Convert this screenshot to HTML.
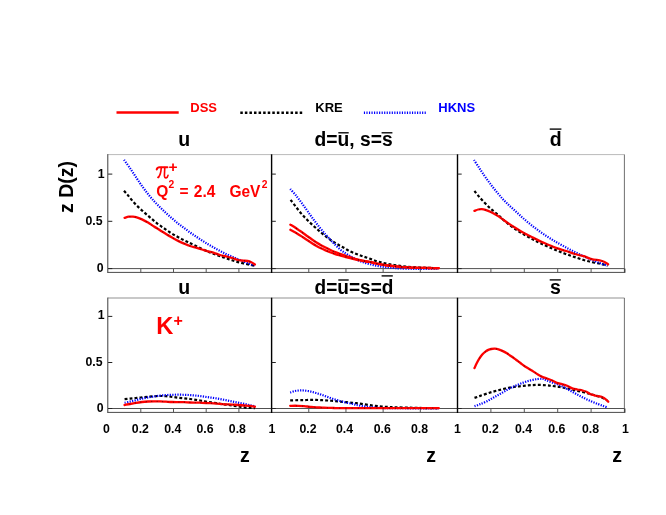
<!DOCTYPE html>
<html><head><meta charset="utf-8"><title>chart</title>
<style>html,body{margin:0;padding:0;background:#fff;overflow:hidden}svg{display:block;will-change:transform}text{font-family:"Liberation Sans",sans-serif}</style></head>
<body>
<svg width="666" height="515" viewBox="0 0 666 515">
<rect width="666" height="515" fill="#fff"/>
<g fill="none" stroke-width="1">
<path d="M108.10 154.60 H624.50" stroke="#bababa"/>
<path d="M624.40 154.60 V272.40" stroke="#606060" stroke-width="0.9"/>
<path d="M624.90 268.60 V272.80" stroke="#222"/>
<path d="M107.80 154.10 V272.90" stroke="#3c3c3c"/>
<path d="M107.60 272.40 H625.00" stroke="#4a4a4a"/>
<path d="M108.10 268.60 H624.50" stroke="#505050"/>
</g>
<g stroke="#000" stroke-width="1.4">
<path d="M271.60 154.30 V273.00"/>
<path d="M457.50 154.30 V273.00"/>
</g>
<g stroke="#222" stroke-width="1">
<path d="M108.10 174.10 H112.30"/>
<path d="M108.10 221.30 H112.30"/>
<path d="M108.10 268.60 H112.30"/>
<path d="M271.60 174.10 H275.80"/>
<path d="M271.60 221.30 H275.80"/>
<path d="M271.60 268.60 H275.80"/>
<path d="M457.50 174.10 H461.70"/>
<path d="M457.50 221.30 H461.70"/>
<path d="M457.50 268.60 H461.70"/>
<path d="M140.80 268.60 V272.40" stroke="#555"/>
<path d="M173.50 268.60 V272.40" stroke="#555"/>
<path d="M206.20 268.60 V272.40" stroke="#555"/>
<path d="M238.90 268.60 V272.40" stroke="#555"/>
<path d="M308.78 268.60 V272.40" stroke="#555"/>
<path d="M345.96 268.60 V272.40" stroke="#555"/>
<path d="M383.14 268.60 V272.40" stroke="#555"/>
<path d="M420.32 268.60 V272.40" stroke="#555"/>
<path d="M490.90 268.60 V272.40" stroke="#555"/>
<path d="M524.30 268.60 V272.40" stroke="#555"/>
<path d="M557.70 268.60 V272.40" stroke="#555"/>
<path d="M591.10 268.60 V272.40" stroke="#555"/>
</g>
<g fill="none" stroke-width="1">
<path d="M108.10 298.00 H624.50" stroke="#919191"/>
<path d="M624.40 298.00 V412.40" stroke="#606060" stroke-width="0.9"/>
<path d="M624.90 408.50 V412.80" stroke="#222"/>
<path d="M107.80 297.50 V412.90" stroke="#3c3c3c"/>
<path d="M107.60 412.40 H625.00" stroke="#4a4a4a"/>
<path d="M108.10 408.50 H624.50" stroke="#505050"/>
</g>
<g stroke="#000" stroke-width="1.4">
<path d="M271.60 297.70 V413.00"/>
<path d="M457.50 297.70 V413.00"/>
</g>
<g stroke="#222" stroke-width="1">
<path d="M108.10 316.40 H112.30"/>
<path d="M108.10 362.50 H112.30"/>
<path d="M108.10 408.50 H112.30"/>
<path d="M271.60 316.40 H275.80"/>
<path d="M271.60 362.50 H275.80"/>
<path d="M271.60 408.50 H275.80"/>
<path d="M457.50 316.40 H461.70"/>
<path d="M457.50 362.50 H461.70"/>
<path d="M457.50 408.50 H461.70"/>
<path d="M140.80 408.50 V412.40" stroke="#555"/>
<path d="M173.50 408.50 V412.40" stroke="#555"/>
<path d="M206.20 408.50 V412.40" stroke="#555"/>
<path d="M238.90 408.50 V412.40" stroke="#555"/>
<path d="M308.78 408.50 V412.40" stroke="#555"/>
<path d="M345.96 408.50 V412.40" stroke="#555"/>
<path d="M383.14 408.50 V412.40" stroke="#555"/>
<path d="M420.32 408.50 V412.40" stroke="#555"/>
<path d="M490.90 408.50 V412.40" stroke="#555"/>
<path d="M524.30 408.50 V412.40" stroke="#555"/>
<path d="M557.70 408.50 V412.40" stroke="#555"/>
<path d="M591.10 408.50 V412.40" stroke="#555"/>
</g>
<g fill="none">
<path d="M124.00 190.80 C124.70 191.60 126.60 193.70 128.20 195.60 C129.80 197.50 131.70 200.10 133.60 202.20 C135.50 204.30 137.60 206.30 139.60 208.20 C141.60 210.10 143.60 211.83 145.60 213.60 C147.60 215.37 149.60 217.10 151.60 218.80 C153.60 220.50 155.60 222.27 157.60 223.80 C159.60 225.33 161.58 226.60 163.60 228.00 C165.62 229.40 167.68 230.90 169.70 232.20 C171.72 233.50 173.70 234.65 175.70 235.80 C177.70 236.95 179.70 238.05 181.70 239.10 C183.70 240.15 185.70 241.13 187.70 242.10 C189.70 243.07 191.32 243.75 193.70 244.90 C196.08 246.05 199.62 247.88 202.00 249.00 C204.38 250.12 206.00 250.77 208.00 251.60 C210.00 252.43 212.00 253.23 214.00 254.00 C216.00 254.77 218.00 255.50 220.00 256.20 C222.00 256.90 224.00 257.52 226.00 258.20 C228.00 258.88 230.00 259.65 232.00 260.30 C234.00 260.95 235.98 261.55 238.00 262.10 C240.02 262.65 242.08 263.15 244.10 263.60 C246.12 264.05 248.35 264.42 250.10 264.80 C251.85 265.18 253.85 265.72 254.60 265.90" stroke="#000" stroke-width="2.2" stroke-dasharray="2.9 2.1"/>
<path d="M290.60 199.80 C291.43 200.90 293.77 204.05 295.60 206.40 C297.43 208.75 299.60 211.58 301.60 213.90 C303.60 216.22 305.47 218.17 307.60 220.30 C309.73 222.43 312.27 224.75 314.40 226.70 C316.53 228.65 318.40 230.30 320.40 232.00 C322.40 233.70 324.40 235.38 326.40 236.90 C328.40 238.42 330.40 239.78 332.40 241.10 C334.40 242.42 336.40 243.63 338.40 244.80 C340.40 245.97 342.38 246.97 344.40 248.10 C346.42 249.23 348.48 250.62 350.50 251.60 C352.52 252.58 354.50 253.23 356.50 254.00 C358.50 254.77 360.50 255.50 362.50 256.20 C364.50 256.90 366.25 257.40 368.50 258.20 C370.75 259.00 373.75 260.27 376.00 261.00 C378.25 261.73 380.00 262.12 382.00 262.60 C384.00 263.08 386.00 263.50 388.00 263.90 C390.00 264.30 392.00 264.67 394.00 265.00 C396.00 265.33 398.00 265.63 400.00 265.90 C402.00 266.17 404.00 266.40 406.00 266.60 C408.00 266.80 410.00 266.97 412.00 267.10 C414.00 267.23 416.00 267.30 418.00 267.40 C420.00 267.50 422.00 267.62 424.00 267.70 C426.00 267.78 427.55 267.82 430.00 267.90 C432.45 267.98 437.25 268.15 438.70 268.20" stroke="#000" stroke-width="2.2" stroke-dasharray="2.9 2.1"/>
<path d="M474.40 191.00 C475.23 192.00 477.57 194.90 479.40 197.00 C481.23 199.10 483.40 201.55 485.40 203.60 C487.40 205.65 489.30 207.43 491.40 209.30 C493.50 211.17 495.90 212.95 498.00 214.80 C500.10 216.65 502.00 218.63 504.00 220.40 C506.00 222.17 508.00 223.87 510.00 225.40 C512.00 226.93 514.00 228.27 516.00 229.60 C518.00 230.93 520.00 232.20 522.00 233.40 C524.00 234.60 525.98 235.70 528.00 236.80 C530.02 237.90 532.08 238.95 534.10 240.00 C536.12 241.05 537.67 241.93 540.10 243.10 C542.53 244.27 545.80 245.72 548.70 247.00 C551.60 248.28 554.58 249.62 557.50 250.80 C560.42 251.98 563.30 253.05 566.20 254.10 C569.10 255.15 571.98 256.12 574.90 257.10 C577.82 258.08 580.78 259.13 583.70 260.00 C586.62 260.87 589.50 261.63 592.40 262.30 C595.30 262.97 598.58 263.45 601.10 264.00 C603.62 264.55 606.43 265.33 607.50 265.60" stroke="#000" stroke-width="2.2" stroke-dasharray="2.9 2.1"/>
<path d="M124.60 399.20 C125.50 399.10 128.10 398.80 130.00 398.60 C131.90 398.40 134.00 398.20 136.00 398.00 C138.00 397.80 140.00 397.60 142.00 397.40 C144.00 397.20 146.00 396.98 148.00 396.80 C150.00 396.62 152.00 396.43 154.00 396.30 C156.00 396.17 158.00 396.02 160.00 396.00 C162.00 395.98 163.98 396.07 166.00 396.20 C168.02 396.33 170.08 396.55 172.10 396.80 C174.12 397.05 176.10 397.43 178.10 397.70 C180.10 397.97 182.10 398.18 184.10 398.40 C186.10 398.62 188.12 398.77 190.10 399.00 C192.08 399.23 194.02 399.50 196.00 399.80 C197.98 400.10 200.00 400.45 202.00 400.80 C204.00 401.15 206.00 401.57 208.00 401.90 C210.00 402.23 212.00 402.48 214.00 402.80 C216.00 403.12 218.00 403.50 220.00 403.80 C222.00 404.10 224.00 404.32 226.00 404.60 C228.00 404.88 230.00 405.20 232.00 405.50 C234.00 405.80 235.98 406.10 238.00 406.40 C240.02 406.70 242.08 407.05 244.10 407.30 C246.12 407.55 248.30 407.75 250.10 407.90 C251.90 408.05 254.10 408.15 254.90 408.20" stroke="#000" stroke-width="2.2" stroke-dasharray="2.9 2.1"/>
<path d="M290.20 400.40 C291.50 400.37 295.70 400.25 298.00 400.20 C300.30 400.15 302.00 400.15 304.00 400.10 C306.00 400.05 308.00 399.93 310.00 399.90 C312.00 399.87 314.00 399.85 316.00 399.90 C318.00 399.95 320.00 400.10 322.00 400.20 C324.00 400.30 325.98 400.37 328.00 400.50 C330.02 400.63 332.08 400.82 334.10 401.00 C336.12 401.18 338.10 401.40 340.10 401.60 C342.10 401.80 344.10 402.00 346.10 402.20 C348.10 402.40 350.38 402.63 352.10 402.80 C353.82 402.97 354.78 403.02 356.40 403.20 C358.02 403.38 359.78 403.60 361.80 403.90 C363.82 404.20 366.25 404.67 368.50 405.00 C370.75 405.33 373.05 405.63 375.30 405.90 C377.55 406.17 379.75 406.42 382.00 406.60 C384.25 406.78 386.55 406.88 388.80 407.00 C391.05 407.12 392.13 407.18 395.50 407.30 C398.87 407.42 404.48 407.58 409.00 407.70 C413.52 407.82 417.63 407.92 422.60 408.00 C427.57 408.08 436.10 408.17 438.80 408.20" stroke="#000" stroke-width="2.2" stroke-dasharray="2.9 2.1"/>
<path d="M474.50 397.90 C475.35 397.60 477.53 396.82 479.60 396.10 C481.67 395.38 484.48 394.38 486.90 393.60 C489.32 392.82 491.68 392.08 494.10 391.40 C496.52 390.72 498.97 390.10 501.40 389.50 C503.83 388.90 506.27 388.28 508.70 387.80 C511.13 387.32 513.57 386.93 516.00 386.60 C518.43 386.27 520.87 386.03 523.30 385.80 C525.73 385.57 528.17 385.35 530.60 385.20 C533.03 385.05 535.25 384.88 537.90 384.90 C540.55 384.92 544.00 385.12 546.50 385.30 C549.00 385.48 550.75 385.73 552.90 386.00 C555.05 386.27 557.25 386.53 559.40 386.90 C561.55 387.27 563.65 387.75 565.80 388.20 C567.95 388.65 570.15 389.10 572.30 389.60 C574.45 390.10 576.55 390.68 578.70 391.20 C580.85 391.72 583.03 392.17 585.20 392.70 C587.37 393.23 589.55 393.80 591.70 394.40 C593.85 395.00 596.17 395.65 598.10 396.30 C600.03 396.95 601.80 397.65 603.30 398.30 C604.80 398.95 606.47 399.88 607.10 400.20" stroke="#000" stroke-width="2.2" stroke-dasharray="2.9 2.1"/>
<path d="M124.00 159.80 C125.00 161.20 128.00 165.30 130.00 168.20 C132.00 171.10 134.00 174.23 136.00 177.20 C138.00 180.17 140.00 183.20 142.00 186.00 C144.00 188.80 146.00 191.48 148.00 194.00 C150.00 196.52 152.00 198.90 154.00 201.10 C156.00 203.30 158.00 205.22 160.00 207.20 C162.00 209.18 163.98 211.13 166.00 213.00 C168.02 214.87 170.08 216.65 172.10 218.40 C174.12 220.15 176.10 221.90 178.10 223.50 C180.10 225.10 182.10 226.50 184.10 228.00 C186.10 229.50 188.12 231.08 190.10 232.50 C192.08 233.92 194.02 235.17 196.00 236.50 C197.98 237.83 200.00 239.22 202.00 240.50 C204.00 241.78 206.00 243.00 208.00 244.20 C210.00 245.40 212.00 246.57 214.00 247.70 C216.00 248.83 218.00 249.95 220.00 251.00 C222.00 252.05 224.00 253.05 226.00 254.00 C228.00 254.95 230.00 255.83 232.00 256.70 C234.00 257.57 235.98 258.38 238.00 259.20 C240.02 260.02 242.08 260.80 244.10 261.60 C246.12 262.40 248.35 263.33 250.10 264.00 C251.85 264.67 253.85 265.33 254.60 265.60" stroke="#0000ff" stroke-width="2.2" stroke-dasharray="1.25 1.3"/>
<path d="M290.20 189.00 C291.10 190.00 293.70 192.70 295.60 195.00 C297.50 197.30 299.60 200.10 301.60 202.80 C303.60 205.50 305.60 208.40 307.60 211.20 C309.60 214.00 311.60 216.90 313.60 219.60 C315.60 222.30 317.60 224.90 319.60 227.40 C321.60 229.90 323.78 232.53 325.60 234.60 C327.42 236.67 329.17 238.37 330.50 239.80 C331.83 241.23 332.08 241.68 333.60 243.20 C335.12 244.72 337.60 247.20 339.60 248.90 C341.60 250.60 343.58 252.05 345.60 253.40 C347.62 254.75 349.68 255.90 351.70 257.00 C353.72 258.10 355.70 259.10 357.70 260.00 C359.70 260.90 361.65 261.70 363.70 262.40 C365.75 263.10 367.95 263.67 370.00 264.20 C372.05 264.73 374.00 265.18 376.00 265.60 C378.00 266.02 380.00 266.40 382.00 266.70 C384.00 267.00 386.00 267.18 388.00 267.40 C390.00 267.62 392.00 267.83 394.00 268.00 C396.00 268.17 397.00 268.27 400.00 268.40 C403.00 268.53 408.00 268.72 412.00 268.80 C416.00 268.88 419.55 268.93 424.00 268.90 C428.45 268.87 436.25 268.65 438.70 268.60" stroke="#0000ff" stroke-width="2.2" stroke-dasharray="1.25 1.3"/>
<path d="M474.00 160.00 C474.90 161.37 477.50 165.33 479.40 168.20 C481.30 171.07 483.40 174.35 485.40 177.20 C487.40 180.05 489.40 182.70 491.40 185.30 C493.40 187.90 495.40 190.40 497.40 192.80 C499.40 195.20 501.40 197.55 503.40 199.70 C505.40 201.85 507.30 203.72 509.40 205.70 C511.50 207.68 513.90 209.68 516.00 211.60 C518.10 213.52 520.00 215.40 522.00 217.20 C524.00 219.00 525.98 220.73 528.00 222.40 C530.02 224.07 532.08 225.63 534.10 227.20 C536.12 228.77 538.10 230.37 540.10 231.80 C542.10 233.23 544.10 234.50 546.10 235.80 C548.10 237.10 550.20 238.43 552.10 239.60 C554.00 240.77 555.15 241.47 557.50 242.80 C559.85 244.13 563.30 246.05 566.20 247.60 C569.10 249.15 571.98 250.67 574.90 252.10 C577.82 253.53 580.78 254.85 583.70 256.20 C586.62 257.55 589.50 258.97 592.40 260.20 C595.30 261.43 598.58 262.70 601.10 263.60 C603.62 264.50 606.43 265.27 607.50 265.60" stroke="#0000ff" stroke-width="2.2" stroke-dasharray="1.25 1.3"/>
<path d="M124.60 402.80 C125.50 402.60 128.10 402.03 130.00 401.60 C131.90 401.17 134.00 400.70 136.00 400.20 C138.00 399.70 140.00 399.07 142.00 398.60 C144.00 398.13 146.00 397.75 148.00 397.40 C150.00 397.05 152.00 396.80 154.00 396.50 C156.00 396.20 158.00 395.83 160.00 395.60 C162.00 395.37 163.98 395.23 166.00 395.10 C168.02 394.97 170.08 394.87 172.10 394.80 C174.12 394.73 176.10 394.70 178.10 394.70 C180.10 394.70 182.10 394.73 184.10 394.80 C186.10 394.87 188.12 394.97 190.10 395.10 C192.08 395.23 194.02 395.40 196.00 395.60 C197.98 395.80 200.00 396.03 202.00 396.30 C204.00 396.57 206.00 396.92 208.00 397.20 C210.00 397.48 212.00 397.70 214.00 398.00 C216.00 398.30 218.00 398.63 220.00 399.00 C222.00 399.37 224.00 399.80 226.00 400.20 C228.00 400.60 230.00 401.00 232.00 401.40 C234.00 401.80 235.98 402.20 238.00 402.60 C240.02 403.00 242.08 403.37 244.10 403.80 C246.12 404.23 248.30 404.77 250.10 405.20 C251.90 405.63 254.10 406.20 254.90 406.40" stroke="#0000ff" stroke-width="2.2" stroke-dasharray="1.25 1.3"/>
<path d="M290.20 392.60 C290.90 392.35 292.90 391.45 294.40 391.10 C295.90 390.75 297.60 390.60 299.20 390.50 C300.80 390.40 302.20 390.35 304.00 390.50 C305.80 390.65 308.00 390.98 310.00 391.40 C312.00 391.82 314.00 392.42 316.00 393.00 C318.00 393.58 320.00 394.22 322.00 394.90 C324.00 395.58 325.98 396.38 328.00 397.10 C330.02 397.82 332.08 398.55 334.10 399.20 C336.12 399.85 338.10 400.43 340.10 401.00 C342.10 401.57 344.10 402.13 346.10 402.60 C348.10 403.07 350.38 403.42 352.10 403.80 C353.82 404.18 354.78 404.53 356.40 404.90 C358.02 405.27 359.78 405.65 361.80 406.00 C363.82 406.35 366.25 406.73 368.50 407.00 C370.75 407.27 373.05 407.43 375.30 407.60 C377.55 407.77 378.63 407.90 382.00 408.00 C385.37 408.10 386.03 408.12 395.50 408.20 C404.97 408.28 431.58 408.45 438.80 408.50" stroke="#0000ff" stroke-width="2.2" stroke-dasharray="1.25 1.3"/>
<path d="M474.50 406.10 C475.35 405.82 477.53 405.20 479.60 404.40 C481.67 403.60 484.48 402.48 486.90 401.30 C489.32 400.12 491.68 398.65 494.10 397.30 C496.52 395.95 498.97 394.58 501.40 393.20 C503.83 391.82 506.27 390.28 508.70 389.00 C511.13 387.72 513.57 386.57 516.00 385.50 C518.43 384.43 520.87 383.45 523.30 382.60 C525.73 381.75 528.17 381.00 530.60 380.40 C533.03 379.80 535.83 379.25 537.90 379.00 C539.97 378.75 541.57 378.67 543.00 378.90 C544.43 379.13 544.85 379.75 546.50 380.40 C548.15 381.05 550.75 382.03 552.90 382.80 C555.05 383.57 557.25 384.10 559.40 385.00 C561.55 385.90 563.65 387.07 565.80 388.20 C567.95 389.33 570.15 390.62 572.30 391.80 C574.45 392.98 576.55 394.17 578.70 395.30 C580.85 396.43 583.03 397.57 585.20 398.60 C587.37 399.63 589.55 400.58 591.70 401.50 C593.85 402.42 596.17 403.35 598.10 404.10 C600.03 404.85 601.80 405.47 603.30 406.00 C604.80 406.53 606.47 407.08 607.10 407.30" stroke="#0000ff" stroke-width="2.2" stroke-dasharray="1.25 1.3"/>
<path d="M124.60 217.80 C125.30 217.62 127.50 216.90 128.80 216.70 C130.10 216.50 131.20 216.53 132.40 216.60 C133.60 216.67 134.40 216.63 136.00 217.10 C137.60 217.57 140.00 218.48 142.00 219.40 C144.00 220.32 146.00 221.42 148.00 222.60 C150.00 223.78 152.00 225.23 154.00 226.50 C156.00 227.77 158.00 228.95 160.00 230.20 C162.00 231.45 163.98 232.77 166.00 234.00 C168.02 235.23 170.08 236.45 172.10 237.60 C174.12 238.75 176.10 239.90 178.10 240.90 C180.10 241.90 182.10 242.75 184.10 243.60 C186.10 244.45 188.12 245.32 190.10 246.00 C192.08 246.68 194.02 247.12 196.00 247.70 C197.98 248.28 200.00 248.90 202.00 249.50 C204.00 250.10 206.00 250.75 208.00 251.30 C210.00 251.85 212.00 252.18 214.00 252.80 C216.00 253.42 218.00 254.40 220.00 255.00 C222.00 255.60 224.00 255.92 226.00 256.40 C228.00 256.88 230.00 257.30 232.00 257.90 C234.00 258.50 236.18 259.55 238.00 260.00 C239.82 260.45 241.28 260.43 242.90 260.60 C244.52 260.77 246.30 260.73 247.70 261.00 C249.10 261.27 250.10 261.62 251.30 262.20 C252.50 262.78 254.30 264.12 254.90 264.50" stroke="#ff0000" stroke-width="2.3" stroke-linecap="round"/>
<path d="M290.40 224.70 C291.00 225.05 292.65 225.93 294.00 226.80 C295.35 227.67 297.00 228.87 298.50 229.90 C300.00 230.93 301.50 231.93 303.00 233.00 C304.50 234.07 306.00 235.22 307.50 236.30 C309.00 237.38 310.50 238.47 312.00 239.50 C313.50 240.53 315.00 241.55 316.50 242.50 C318.00 243.45 319.50 244.35 321.00 245.20 C322.50 246.05 324.00 246.83 325.50 247.60 C327.00 248.37 328.50 249.10 330.00 249.80 C331.50 250.50 332.98 251.18 334.50 251.80 C336.02 252.42 337.43 252.90 339.10 253.50 C340.77 254.10 343.02 254.87 344.50 255.40 C345.98 255.93 346.40 256.18 348.00 256.70 C349.60 257.22 352.08 257.95 354.10 258.50 C356.12 259.05 358.10 259.55 360.10 260.00 C362.10 260.45 364.10 260.82 366.10 261.20 C368.10 261.58 370.45 261.93 372.10 262.30 C373.75 262.67 374.35 263.02 376.00 263.40 C377.65 263.78 380.00 264.25 382.00 264.60 C384.00 264.95 386.00 265.23 388.00 265.50 C390.00 265.77 392.00 265.98 394.00 266.20 C396.00 266.42 398.00 266.63 400.00 266.80 C402.00 266.97 404.00 267.07 406.00 267.20 C408.00 267.33 410.00 267.50 412.00 267.60 C414.00 267.70 416.00 267.75 418.00 267.80 C420.00 267.85 422.00 267.87 424.00 267.90 C426.00 267.93 427.55 267.95 430.00 268.00 C432.45 268.05 437.25 268.17 438.70 268.20" stroke="#ff0000" stroke-width="2.3" stroke-linecap="round"/>
<path d="M290.40 229.80 C291.00 230.13 292.65 231.03 294.00 231.80 C295.35 232.57 297.00 233.48 298.50 234.40 C300.00 235.32 301.50 236.33 303.00 237.30 C304.50 238.27 306.00 239.22 307.50 240.20 C309.00 241.18 310.50 242.25 312.00 243.20 C313.50 244.15 315.00 245.05 316.50 245.90 C318.00 246.75 319.50 247.55 321.00 248.30 C322.50 249.05 324.00 249.75 325.50 250.40 C327.00 251.05 328.50 251.63 330.00 252.20 C331.50 252.77 332.98 253.30 334.50 253.80 C336.02 254.30 337.43 254.72 339.10 255.20 C340.77 255.68 343.02 256.28 344.50 256.70 C345.98 257.12 346.40 257.30 348.00 257.70 C349.60 258.10 352.08 258.65 354.10 259.10 C356.12 259.55 358.10 260.00 360.10 260.40 C362.10 260.80 364.10 261.15 366.10 261.50 C368.10 261.85 370.45 262.17 372.10 262.50 C373.75 262.83 374.35 263.13 376.00 263.50 C377.65 263.87 380.00 264.37 382.00 264.70 C384.00 265.03 386.00 265.25 388.00 265.50 C390.00 265.75 392.00 265.98 394.00 266.20 C396.00 266.42 397.00 266.57 400.00 266.80 C403.00 267.03 408.00 267.42 412.00 267.60 C416.00 267.78 419.55 267.80 424.00 267.90 C428.45 268.00 436.25 268.15 438.70 268.20" stroke="#ff0000" stroke-width="2.3" stroke-linecap="round"/>
<path d="M474.40 210.90 C475.03 210.67 476.97 209.78 478.20 209.50 C479.43 209.22 480.60 209.13 481.80 209.20 C483.00 209.27 483.90 209.43 485.40 209.90 C486.90 210.37 488.90 211.10 490.80 212.00 C492.70 212.90 494.80 214.07 496.80 215.30 C498.80 216.53 500.80 218.02 502.80 219.40 C504.80 220.78 506.80 222.25 508.80 223.60 C510.80 224.95 512.80 226.23 514.80 227.50 C516.80 228.77 518.80 230.03 520.80 231.20 C522.80 232.37 524.78 233.43 526.80 234.50 C528.82 235.57 530.88 236.58 532.90 237.60 C534.92 238.62 536.90 239.65 538.90 240.60 C540.90 241.55 542.90 242.43 544.90 243.30 C546.90 244.17 548.80 244.95 550.90 245.80 C553.00 246.65 554.95 247.53 557.50 248.40 C560.05 249.27 563.30 250.07 566.20 251.00 C569.10 251.93 571.98 253.13 574.90 254.00 C577.82 254.87 580.90 255.33 583.70 256.20 C586.50 257.07 589.03 258.50 591.70 259.20 C594.37 259.90 597.65 259.97 599.70 260.40 C601.75 260.83 602.60 261.15 604.00 261.80 C605.40 262.45 607.42 263.88 608.10 264.30" stroke="#ff0000" stroke-width="2.3" stroke-linecap="round"/>
<path d="M124.60 405.00 C125.50 404.83 128.10 404.37 130.00 404.00 C131.90 403.63 134.00 403.13 136.00 402.80 C138.00 402.47 140.00 402.22 142.00 402.00 C144.00 401.78 146.00 401.62 148.00 401.50 C150.00 401.38 152.00 401.32 154.00 401.30 C156.00 401.28 158.00 401.33 160.00 401.40 C162.00 401.47 163.98 401.60 166.00 401.70 C168.02 401.80 170.08 401.93 172.10 402.00 C174.12 402.07 176.10 402.07 178.10 402.10 C180.10 402.13 182.10 402.13 184.10 402.20 C186.10 402.27 188.12 402.43 190.10 402.50 C192.08 402.57 194.02 402.55 196.00 402.60 C197.98 402.65 200.00 402.72 202.00 402.80 C204.00 402.88 206.00 403.00 208.00 403.10 C210.00 403.20 212.00 403.28 214.00 403.40 C216.00 403.52 218.00 403.65 220.00 403.80 C222.00 403.95 224.00 404.17 226.00 404.30 C228.00 404.43 230.00 404.48 232.00 404.60 C234.00 404.72 235.98 404.85 238.00 405.00 C240.02 405.15 242.08 405.35 244.10 405.50 C246.12 405.65 248.30 405.70 250.10 405.90 C251.90 406.10 254.10 406.57 254.90 406.70" stroke="#ff0000" stroke-width="2.3" stroke-linecap="round"/>
<path d="M290.20 405.80 C291.50 405.80 295.70 405.73 298.00 405.80 C300.30 405.87 302.00 406.03 304.00 406.20 C306.00 406.37 308.00 406.62 310.00 406.80 C312.00 406.98 314.00 407.17 316.00 407.30 C318.00 407.43 320.00 407.50 322.00 407.60 C324.00 407.70 325.98 407.83 328.00 407.90 C330.02 407.97 331.08 407.95 334.10 408.00 C337.12 408.05 328.65 408.17 346.10 408.20 C363.55 408.23 423.35 408.20 438.80 408.20" stroke="#ff0000" stroke-width="2.3" stroke-linecap="round"/>
<path d="M474.50 368.10 C474.87 367.30 475.85 364.95 476.70 363.30 C477.55 361.65 478.63 359.70 479.60 358.20 C480.57 356.70 481.53 355.38 482.50 354.30 C483.47 353.22 484.43 352.43 485.40 351.70 C486.37 350.97 487.33 350.35 488.30 349.90 C489.27 349.45 490.10 349.20 491.20 349.00 C492.30 348.80 493.68 348.65 494.90 348.70 C496.12 348.75 497.17 348.90 498.50 349.30 C499.83 349.70 501.43 350.38 502.90 351.10 C504.37 351.82 505.85 352.70 507.30 353.60 C508.75 354.50 510.15 355.48 511.60 356.50 C513.05 357.52 514.53 358.62 516.00 359.70 C517.47 360.78 518.95 361.92 520.40 363.00 C521.85 364.08 523.25 365.22 524.70 366.20 C526.15 367.18 527.63 368.00 529.10 368.90 C530.57 369.80 532.03 370.67 533.50 371.60 C534.97 372.53 536.45 373.62 537.90 374.50 C539.35 375.38 540.98 376.35 542.20 376.90 C543.42 377.45 543.63 377.25 545.20 377.80 C546.77 378.35 549.67 379.37 551.60 380.20 C553.53 381.03 555.07 382.15 556.80 382.80 C558.53 383.45 560.28 383.62 562.00 384.10 C563.72 384.58 565.38 385.00 567.10 385.70 C568.82 386.40 570.58 387.67 572.30 388.30 C574.02 388.93 575.68 389.13 577.40 389.50 C579.12 389.87 581.08 390.12 582.60 390.50 C584.12 390.88 585.20 391.20 586.50 391.80 C587.80 392.40 589.12 393.52 590.40 394.10 C591.68 394.68 592.92 394.97 594.20 395.30 C595.48 395.63 596.80 395.82 598.10 396.10 C599.40 396.38 600.82 396.53 602.00 397.00 C603.18 397.47 604.17 398.12 605.20 398.90 C606.23 399.68 607.70 401.23 608.20 401.70" stroke="#ff0000" stroke-width="2.3" stroke-linecap="round"/>
</g>
<g fill="#2a0000" fill-opacity="0.6">
<circle cx="129.90" cy="216.67" r="0.62"/>
<circle cx="135.35" cy="217.01" r="0.62"/>
<circle cx="140.80" cy="218.94" r="0.62"/>
<circle cx="146.25" cy="221.67" r="0.62"/>
<circle cx="151.70" cy="225.00" r="0.62"/>
<circle cx="157.15" cy="228.44" r="0.62"/>
<circle cx="162.60" cy="231.85" r="0.62"/>
<circle cx="168.05" cy="235.21" r="0.62"/>
<circle cx="173.50" cy="238.37" r="0.62"/>
<circle cx="178.95" cy="241.28" r="0.62"/>
<circle cx="184.40" cy="243.72" r="0.62"/>
<circle cx="189.85" cy="245.90" r="0.62"/>
<circle cx="195.30" cy="247.50" r="0.62"/>
<circle cx="200.75" cy="249.12" r="0.62"/>
<circle cx="206.20" cy="250.76" r="0.62"/>
<circle cx="211.65" cy="252.21" r="0.62"/>
<circle cx="217.10" cy="253.94" r="0.62"/>
<circle cx="222.55" cy="255.59" r="0.62"/>
<circle cx="228.00" cy="256.90" r="0.62"/>
<circle cx="233.45" cy="258.41" r="0.62"/>
<circle cx="238.90" cy="260.11" r="0.62"/>
<circle cx="244.35" cy="260.72" r="0.62"/>
<circle cx="249.80" cy="261.70" r="0.62"/>
<circle cx="296.39" cy="228.44" r="0.62"/>
<circle cx="302.58" cy="232.71" r="0.62"/>
<circle cx="308.78" cy="237.21" r="0.62"/>
<circle cx="314.98" cy="241.48" r="0.62"/>
<circle cx="321.17" cy="245.29" r="0.62"/>
<circle cx="327.37" cy="248.51" r="0.62"/>
<circle cx="333.57" cy="251.39" r="0.62"/>
<circle cx="339.76" cy="253.73" r="0.62"/>
<circle cx="345.96" cy="255.94" r="0.62"/>
<circle cx="352.16" cy="257.93" r="0.62"/>
<circle cx="358.35" cy="259.56" r="0.62"/>
<circle cx="364.55" cy="260.89" r="0.62"/>
<circle cx="370.75" cy="262.05" r="0.62"/>
<circle cx="376.94" cy="263.59" r="0.62"/>
<circle cx="383.14" cy="264.77" r="0.62"/>
<circle cx="389.34" cy="265.66" r="0.62"/>
<circle cx="395.53" cy="266.35" r="0.62"/>
<circle cx="401.73" cy="266.92" r="0.62"/>
<circle cx="407.93" cy="267.33" r="0.62"/>
<circle cx="414.12" cy="267.67" r="0.62"/>
<circle cx="420.32" cy="267.84" r="0.62"/>
<circle cx="426.52" cy="267.94" r="0.62"/>
<circle cx="432.71" cy="268.06" r="0.62"/>
<circle cx="296.39" cy="233.18" r="0.62"/>
<circle cx="302.58" cy="237.03" r="0.62"/>
<circle cx="308.78" cy="241.05" r="0.62"/>
<circle cx="314.98" cy="244.99" r="0.62"/>
<circle cx="321.17" cy="248.38" r="0.62"/>
<circle cx="327.37" cy="251.15" r="0.62"/>
<circle cx="333.57" cy="253.47" r="0.62"/>
<circle cx="339.76" cy="255.38" r="0.62"/>
<circle cx="345.96" cy="257.12" r="0.62"/>
<circle cx="352.16" cy="258.65" r="0.62"/>
<circle cx="358.35" cy="260.02" r="0.62"/>
<circle cx="364.55" cy="261.22" r="0.62"/>
<circle cx="370.75" cy="262.27" r="0.62"/>
<circle cx="376.94" cy="263.69" r="0.62"/>
<circle cx="383.14" cy="264.85" r="0.62"/>
<circle cx="389.34" cy="265.66" r="0.62"/>
<circle cx="395.53" cy="266.35" r="0.62"/>
<circle cx="401.73" cy="266.92" r="0.62"/>
<circle cx="407.93" cy="267.33" r="0.62"/>
<circle cx="414.12" cy="267.65" r="0.62"/>
<circle cx="420.32" cy="267.81" r="0.62"/>
<circle cx="426.52" cy="267.95" r="0.62"/>
<circle cx="432.71" cy="268.08" r="0.62"/>
<circle cx="479.77" cy="209.37" r="0.62"/>
<circle cx="485.33" cy="209.89" r="0.62"/>
<circle cx="490.90" cy="212.05" r="0.62"/>
<circle cx="496.47" cy="215.12" r="0.62"/>
<circle cx="502.03" cy="218.88" r="0.62"/>
<circle cx="507.60" cy="222.76" r="0.62"/>
<circle cx="513.17" cy="226.44" r="0.62"/>
<circle cx="518.73" cy="229.93" r="0.62"/>
<circle cx="524.30" cy="233.12" r="0.62"/>
<circle cx="529.87" cy="236.06" r="0.62"/>
<circle cx="535.43" cy="238.87" r="0.62"/>
<circle cx="541.00" cy="241.55" r="0.62"/>
<circle cx="546.57" cy="243.99" r="0.62"/>
<circle cx="552.13" cy="246.29" r="0.62"/>
<circle cx="557.70" cy="248.46" r="0.62"/>
<circle cx="563.27" cy="250.12" r="0.62"/>
<circle cx="568.83" cy="251.91" r="0.62"/>
<circle cx="574.40" cy="253.83" r="0.62"/>
<circle cx="579.97" cy="255.27" r="0.62"/>
<circle cx="585.53" cy="256.89" r="0.62"/>
<circle cx="591.10" cy="258.97" r="0.62"/>
<circle cx="596.67" cy="259.94" r="0.62"/>
<circle cx="602.23" cy="261.22" r="0.62"/>
<circle cx="129.90" cy="404.02" r="0.62"/>
<circle cx="135.35" cy="402.93" r="0.62"/>
<circle cx="140.80" cy="402.16" r="0.62"/>
<circle cx="146.25" cy="401.65" r="0.62"/>
<circle cx="151.70" cy="401.38" r="0.62"/>
<circle cx="157.15" cy="401.35" r="0.62"/>
<circle cx="162.60" cy="401.53" r="0.62"/>
<circle cx="168.05" cy="401.80" r="0.62"/>
<circle cx="173.50" cy="402.02" r="0.62"/>
<circle cx="178.95" cy="402.11" r="0.62"/>
<circle cx="184.40" cy="402.21" r="0.62"/>
<circle cx="189.85" cy="402.49" r="0.62"/>
<circle cx="195.30" cy="402.59" r="0.62"/>
<circle cx="200.75" cy="402.76" r="0.62"/>
<circle cx="206.20" cy="403.01" r="0.62"/>
<circle cx="211.65" cy="403.28" r="0.62"/>
<circle cx="217.10" cy="403.61" r="0.62"/>
<circle cx="222.55" cy="404.01" r="0.62"/>
<circle cx="228.00" cy="404.40" r="0.62"/>
<circle cx="233.45" cy="404.70" r="0.62"/>
<circle cx="238.90" cy="405.07" r="0.62"/>
<circle cx="244.35" cy="405.52" r="0.62"/>
<circle cx="249.80" cy="405.88" r="0.62"/>
<circle cx="296.39" cy="405.80" r="0.62"/>
<circle cx="302.58" cy="406.11" r="0.62"/>
<circle cx="308.78" cy="406.68" r="0.62"/>
<circle cx="314.98" cy="407.21" r="0.62"/>
<circle cx="321.17" cy="407.56" r="0.62"/>
<circle cx="327.37" cy="407.87" r="0.62"/>
<circle cx="333.57" cy="407.99" r="0.62"/>
<circle cx="339.76" cy="408.09" r="0.62"/>
<circle cx="345.96" cy="408.20" r="0.62"/>
<circle cx="352.16" cy="408.20" r="0.62"/>
<circle cx="358.35" cy="408.20" r="0.62"/>
<circle cx="364.55" cy="408.20" r="0.62"/>
<circle cx="370.75" cy="408.20" r="0.62"/>
<circle cx="376.94" cy="408.20" r="0.62"/>
<circle cx="383.14" cy="408.20" r="0.62"/>
<circle cx="389.34" cy="408.20" r="0.62"/>
<circle cx="395.53" cy="408.20" r="0.62"/>
<circle cx="401.73" cy="408.20" r="0.62"/>
<circle cx="407.93" cy="408.20" r="0.62"/>
<circle cx="414.12" cy="408.20" r="0.62"/>
<circle cx="420.32" cy="408.20" r="0.62"/>
<circle cx="426.52" cy="408.20" r="0.62"/>
<circle cx="432.71" cy="408.20" r="0.62"/>
<circle cx="479.77" cy="357.98" r="0.62"/>
<circle cx="485.33" cy="351.76" r="0.62"/>
<circle cx="490.90" cy="349.09" r="0.62"/>
<circle cx="496.47" cy="348.96" r="0.62"/>
<circle cx="502.03" cy="350.75" r="0.62"/>
<circle cx="507.60" cy="353.80" r="0.62"/>
<circle cx="513.17" cy="357.64" r="0.62"/>
<circle cx="518.73" cy="361.75" r="0.62"/>
<circle cx="524.30" cy="365.90" r="0.62"/>
<circle cx="529.87" cy="369.37" r="0.62"/>
<circle cx="535.43" cy="372.87" r="0.62"/>
<circle cx="541.00" cy="376.23" r="0.62"/>
<circle cx="546.57" cy="378.31" r="0.62"/>
<circle cx="552.13" cy="380.47" r="0.62"/>
<circle cx="557.70" cy="383.03" r="0.62"/>
<circle cx="563.27" cy="384.50" r="0.62"/>
<circle cx="568.83" cy="386.57" r="0.62"/>
<circle cx="574.40" cy="388.79" r="0.62"/>
<circle cx="579.97" cy="389.99" r="0.62"/>
<circle cx="585.53" cy="391.48" r="0.62"/>
<circle cx="591.10" cy="394.32" r="0.62"/>
<circle cx="596.67" cy="395.81" r="0.62"/>
<circle cx="602.23" cy="397.14" r="0.62"/>
</g>
<path d="M116.5 112.5 H178.7" stroke="#ff0000" stroke-width="2.4" fill="none"/>
<path d="M240.3 112.7 H303.3" stroke="#000" stroke-width="2.5" stroke-dasharray="2.5 2.07" fill="none"/>
<path d="M363.9 112.7 H426.4" stroke="#0000ff" stroke-width="2.5" stroke-dasharray="1.15 1.38" fill="none"/>
<g font-family="Liberation Sans, sans-serif" font-weight="bold" font-size="13">
<text x="190.3" y="112.3" fill="#ff0000">DSS</text>
<text x="315.3" y="112.3" fill="#000">KRE</text>
<text x="438.3" y="112.3" fill="#0000ff">HKNS</text>
</g>
<g font-family="Liberation Sans, sans-serif" font-weight="bold" font-size="19.5" fill="#000">
<text x="184.3" y="146.3" text-anchor="middle">u</text>
<text x="314.6" y="146.3" textLength="78.1" lengthAdjust="spacingAndGlyphs">d=u, s=s</text>
<text x="555.6" y="146.3" text-anchor="middle">d</text>
<text x="184.3" y="293.5" text-anchor="middle">u</text>
<text x="314.6" y="293.5" textLength="78.8" lengthAdjust="spacingAndGlyphs">d=u=s=d</text>
<text x="555.4" y="293.5" text-anchor="middle">s</text>
</g>
<g stroke="#000" stroke-width="1.35">
<path d="M338.3 132.8 H348.7"/>
<path d="M381.6 132.8 H392.4"/>
<path d="M549.7 129.1 H561.4"/>
<path d="M338.3 280.0 H348.7"/>
<path d="M381.6 275.9 H392.8"/>
<path d="M549.7 279.9 H560.8"/>
</g>
<g font-family="Liberation Sans, sans-serif" font-weight="bold" font-size="19.5" fill="#000">
<text transform="translate(73.4 213) rotate(-90)">z D(z)</text>
<text x="244.8" y="461.6" text-anchor="middle">z</text>
<text x="431.0" y="461.6" text-anchor="middle">z</text>
<text x="617.0" y="461.6" text-anchor="middle">z</text>
</g>
<g font-family="Liberation Sans, sans-serif" font-weight="bold" font-size="12.3" fill="#000">
<text x="104.6" y="177.7" text-anchor="end">1</text>
<text x="102.6" y="224.9" text-anchor="end">0.5</text>
<text x="103.5" y="271.9" text-anchor="end">0</text>
<text x="104.6" y="319.0" text-anchor="end">1</text>
<text x="102.6" y="365.5" text-anchor="end">0.5</text>
<text x="103.5" y="411.8" text-anchor="end">0</text>
<text x="106.4" y="433.2" text-anchor="middle">0</text>
<text x="140.4" y="433.2" text-anchor="middle">0.2</text>
<text x="172.7" y="433.2" text-anchor="middle">0.4</text>
<text x="205.1" y="433.2" text-anchor="middle">0.6</text>
<text x="237.4" y="433.2" text-anchor="middle">0.8</text>
<text x="271.9" y="433.2" text-anchor="middle">1</text>
<text x="308.1" y="433.2" text-anchor="middle">0.2</text>
<text x="344.6" y="433.2" text-anchor="middle">0.4</text>
<text x="382.3" y="433.2" text-anchor="middle">0.6</text>
<text x="419.5" y="433.2" text-anchor="middle">0.8</text>
<text x="457.5" y="433.2" text-anchor="middle">1</text>
<text x="490.3" y="433.2" text-anchor="middle">0.2</text>
<text x="523.5" y="433.2" text-anchor="middle">0.4</text>
<text x="556.7" y="433.2" text-anchor="middle">0.6</text>
<text x="590.5" y="433.2" text-anchor="middle">0.8</text>
<text x="625.3" y="433.2" text-anchor="middle">1</text>
</g>
<g fill="#ff0000">
<g transform="translate(150 158) scale(0.06006)" fill="none" stroke="#ff0000" stroke-linecap="round" stroke-linejoin="round">
<path d="M112 190 Q124 154 158 154 L290 154" stroke-width="34"/>
<path d="M188 160 C184 225 172 290 138 322" stroke-width="27"/>
<path d="M246 160 L240 285 Q238 332 268 330 Q292 328 300 288" stroke-width="27"/>
<circle cx="136" cy="322" r="10" fill="#ff0000" stroke-width="12"/>
</g>
<text x="168.6" y="171.9" font-family="Liberation Sans, sans-serif" font-weight="bold" font-size="15.5">+</text>
<g font-family="Liberation Sans, sans-serif" font-weight="bold" font-size="15.5" transform="translate(0 196.7) scale(1 1.065) translate(0 -196.7)">
<text x="156.2" y="196.6">Q</text>
<text x="168.6" y="188.7" font-size="10.3">2</text>
<text x="179.6" y="196.6">=</text>
<text x="193.8" y="196.6">2.4</text>
<text x="229.4" y="196.6">GeV</text>
<text x="261.8" y="188.7" font-size="10.3">2</text>
</g>
<text x="156.2" y="334.2" font-family="Liberation Sans, sans-serif" font-weight="bold" font-size="23.7">K</text>
<text x="173.5" y="325.5" font-family="Liberation Sans, sans-serif" font-weight="bold" font-size="16">+</text>
</g>
</svg>
</body></html>
